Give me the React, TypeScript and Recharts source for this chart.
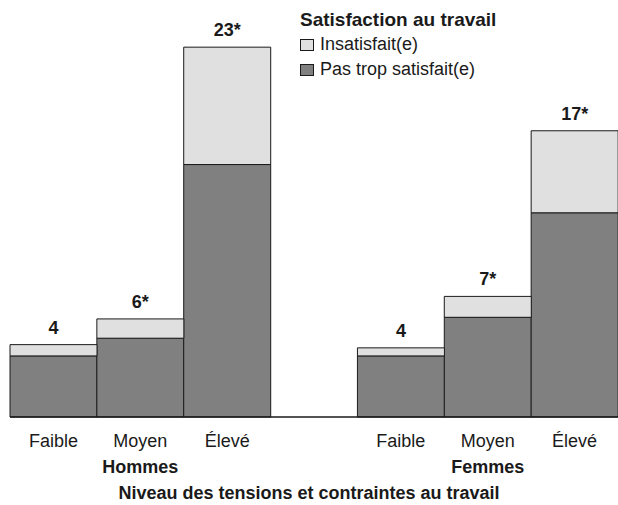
import { BarChart, Bar, XAxis, YAxis, LabelList, Legend } from 'recharts'

const categories = ['Faible', 'Moyen', 'Élevé', '', 'Faible', 'Moyen', 'Élevé']
const groups = ['', 'Hommes', '', '', '', 'Femmes', '']
const pasTropSatisfait = [3.8, 4.9, 15.7, null, 3.8, 6.2, 12.7]
const insatisfait = [0.7, 1.2, 7.3, null, 0.5, 1.3, 5.1]
const valueLabels = ['4', '6*', '23*', '', '4', '7*', '17*']

const FONT = '"Liberation Sans Narrow", "Arial Narrow", "Liberation Sans", Arial, sans-serif'
const LIGHT = '#e0e0e0'
const DARK = '#808080'
const INK = '#1a1a1a'

const data = categories.map((cat, i) => ({
  key: `c${i}`,
  cat,
  group: groups[i],
  pasTrop: pasTropSatisfait[i],
  insat: insatisfait[i],
  label: valueLabels[i],
}))

function CatTick({ x, index }: any) {
  const d = data[index]
  if (!d) return null
  return (
    <g>
      <text x={x} y={417} dy={30} textAnchor="middle" fontFamily={FONT} fontSize={18} fill={INK}>
        {d.cat}
      </text>
      {d.group && (
        <text x={x} y={417} dy={56} textAnchor="middle" fontFamily={FONT} fontSize={18} fontWeight="bold" fill={INK}>
          {d.group}
        </text>
      )}
    </g>
  )
}

function TopLabel({ x, y, width, value }: any) {
  if (!value) return null
  return (
    <text x={x + width / 2} y={y - 11} textAnchor="middle" fontFamily={FONT} fontSize={18} fontWeight="bold" fill={INK}>
      {value}
    </text>
  )
}

function LegendBox() {
  const items = [
    { name: 'Insatisfait(e)', color: LIGHT },
    { name: 'Pas trop satisfait(e)', color: DARK },
  ]
  return (
    <div style={{ fontFamily: FONT, color: INK, whiteSpace: 'nowrap' }}>
      <div style={{ fontWeight: 'bold', fontSize: 19, lineHeight: '25px' }}>Satisfaction au travail</div>
      {items.map((it) => (
        <div key={it.name} style={{ display: 'flex', alignItems: 'center', fontSize: 18, lineHeight: '25px' }}>
          <span style={{ display: 'inline-block', flexShrink: 0, width: 12, height: 10, background: it.color, border: `1px solid ${INK}`, marginRight: 6 }} />
          {it.name}
        </div>
      ))}
    </div>
  )
}

export default function App() {
  return (
    <div style={{ position: 'absolute', left: 0, top: 0, width: 618, height: 505, overflow: 'hidden', background: '#fff' }}>
      <BarChart width={618} height={505} data={data} barCategoryGap={0} margin={{ top: 15, right: 0, bottom: 0, left: 10 }}>
        <XAxis
          dataKey="key"
          tick={<CatTick />}
          tickLine={false}
          axisLine={{ stroke: INK, strokeWidth: 1.5 }}
          height={88}
          interval={0}
          label={{ value: 'Niveau des tensions et contraintes au travail', position: 'insideBottom', offset: 6, dx: -5, fontFamily: FONT, fontSize: 18, fontWeight: 'bold', fill: INK }}
        />
        <YAxis hide domain={[0, 25]} />
        <Legend
          content={<LegendBox />}
          wrapperStyle={{ position: 'absolute', left: 300, top: 7, width: 260, height: 0, overflow: 'visible' }}
        />
        <Bar dataKey="pasTrop" stackId="a" fill={DARK} stroke={INK} strokeWidth={1} isAnimationActive={false} name="Pas trop satisfait(e)" />
        <Bar dataKey="insat" stackId="a" fill={LIGHT} stroke={INK} strokeWidth={1} isAnimationActive={false} name="Insatisfait(e)">
          <LabelList dataKey="label" content={<TopLabel />} />
        </Bar>
      </BarChart>
    </div>
  )
}
